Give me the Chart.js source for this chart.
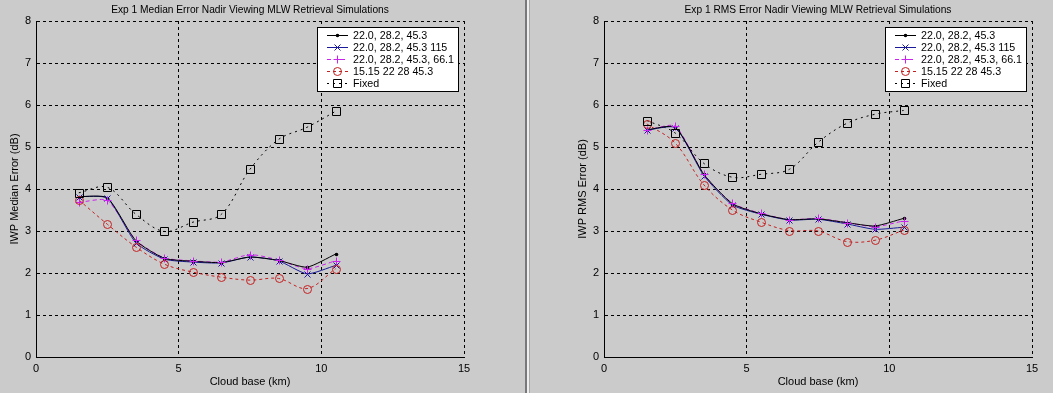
<!DOCTYPE html>
<html>
<head>
<meta charset="utf-8">
<script src="https://cdn.jsdelivr.net/npm/chart.js@4/dist/chart.umd.min.js"></script>
<style>
  body { margin: 0; background: #cbcbcb; width: 1053px; height: 393px; overflow: hidden; position: relative; }
  .pane { position: absolute; top: 0; height: 393px; }
  .sep { position: absolute; top: 0; height: 393px; }
</style>
</head>
<body>
<div class="pane" style="left:0;width:525px"><canvas id="left" width="525" height="393"></canvas></div>
<div class="sep" style="left:525px;width:2px;background:#77777c"></div>
<div class="sep" style="left:527px;width:2px;background:#eeeeee"></div>
<div class="sep" style="left:529px;width:1px;background:#a8a8a8"></div>
<div class="pane" style="left:530px;width:523px"><canvas id="right" width="523" height="393"></canvas></div>
<script>
// cloud base heights (km)
const cloudBase = [1.5, 2.5, 3.5, 4.5, 5.5, 6.5, 7.5, 8.5, 9.5, 10.5];

const seriesNames = ['22.0, 28.2, 45.3', '22.0, 28.2, 45.3 115', '22.0, 28.2, 45.3, 66.1', '15.15 22 28 45.3', 'Fixed'];

// median error (dB)
const medianA = [3.82, 3.79, 2.77, 2.35, 2.28, 2.25, 2.38, 2.30, 2.14, 2.45];
const medianB = [3.82, 3.78, 2.72, 2.33, 2.26, 2.24, 2.38, 2.29, 1.98, 2.18];
const medianC = [3.68, 3.73, 2.78, 2.36, 2.29, 2.26, 2.44, 2.31, 2.10, 2.29];
const medianD = [3.74, 3.16, 2.62, 2.21, 2.02, 1.90, 1.83, 1.87, 1.63, 2.10];
const medianFixed = [3.91, 4.04, 3.40, 2.99, 3.21, 3.40, 4.47, 5.18, 5.47, 5.85];

// rms error (dB)
const rmsA = [5.41, 5.47, 4.35, 3.65, 3.41, 3.27, 3.29, 3.20, 3.12, 3.30];
const rmsB = [5.40, 5.46, 4.32, 3.62, 3.40, 3.26, 3.28, 3.17, 3.04, 3.09];
const rmsC = [5.40, 5.50, 4.35, 3.66, 3.42, 3.27, 3.30, 3.20, 3.10, 3.24];
const rmsD = [5.55, 5.09, 4.10, 3.50, 3.21, 3.01, 3.00, 2.75, 2.78, 3.02];
const rmsFixed = [5.63, 5.33, 4.61, 4.28, 4.35, 4.47, 5.11, 5.56, 5.78, 5.87];

const xTicks = [0, 5, 10, 15];
const FONT = '"Liberation Sans", Arial, sans-serif';

const styles = [
  { color: '#000000', dash: [], point: 'dot', r: 1.8 },
  { color: '#1a1a9a', dash: [], point: 'crossRot', r: 3 },
  { color: '#cc22ee', dash: [4, 3], point: 'cross', r: 4 },
  { color: '#c42020', dash: [3, 3], point: 'circle', r: 4 },
  { color: '#000000', dash: [2, 4], point: 'rect', r: 4 }
];

function drawMarker(ctx, kind, x, y, r, color) {
  x = Math.round(x) + 0.5;
  y = Math.round(y) + 0.5;
  ctx.save();
  ctx.setLineDash([]);
  ctx.strokeStyle = color;
  ctx.fillStyle = color;
  ctx.lineWidth = 1;
  ctx.beginPath();
  if (kind === 'dot') {
    ctx.arc(x, y, r, 0, Math.PI * 2);
    ctx.fill();
  } else if (kind === 'crossRot') {
    ctx.moveTo(x - r, y - r); ctx.lineTo(x + r, y + r);
    ctx.moveTo(x - r, y + r); ctx.lineTo(x + r, y - r);
    ctx.stroke();
  } else if (kind === 'cross') {
    ctx.moveTo(x - r, y); ctx.lineTo(x + r, y);
    ctx.moveTo(x, y - r); ctx.lineTo(x, y + r);
    ctx.stroke();
  } else if (kind === 'circle') {
    ctx.arc(x, y, r, 0, Math.PI * 2);
    ctx.stroke();
  } else if (kind === 'rect') {
    ctx.rect(x - r, y - r, r * 2, r * 2);
    ctx.stroke();
  }
  ctx.restore();
}

// markers drawn by hand so the shapes look like the matlab ones
const markerPlugin = {
  id: 'markers',
  afterDatasetsDraw(chart) {
    const ctx = chart.ctx;
    chart.data.datasets.forEach((ds, i) => {
      const meta = chart.getDatasetMeta(i);
      const st = styles[i];
      meta.data.forEach(pt => drawMarker(ctx, st.point, pt.x, pt.y, st.r, st.color));
    });
  }
};

const boxLegend = {
  id: 'boxLegend',
  afterDraw(chart) {
    const ctx = chart.ctx;
    const area = chart.chartArea;
    const w = 141, h = 64;
    const x0 = Math.round(area.right - 6 - w), y0 = Math.round(area.top + 6);
    ctx.save();
    ctx.fillStyle = '#ffffff';
    ctx.fillRect(x0, y0, w, h);
    ctx.strokeStyle = '#000000';
    ctx.lineWidth = 1;
    ctx.setLineDash([]);
    ctx.strokeRect(x0 + 0.5, y0 + 0.5, w, h);
    ctx.font = '10.7px ' + FONT;
    ctx.textBaseline = 'middle';
    chart.data.datasets.forEach((ds, i) => {
      const st = styles[i];
      const y = y0 + 8 + i * 12;
      ctx.strokeStyle = st.color;
      ctx.setLineDash(st.dash);
      ctx.beginPath();
      ctx.moveTo(x0 + 10, y + 0.5);
      ctx.lineTo(x0 + 31, y + 0.5);
      ctx.stroke();
      drawMarker(ctx, st.point, x0 + 20, y, st.r, st.color);
      ctx.fillStyle = '#000000';
      ctx.fillText(ds.label, x0 + 36, y + 1);
    });
    ctx.restore();
  }
};

const topTitle = {
  id: 'topTitle',
  afterDraw(chart, args, opts) {
    const ctx = chart.ctx;
    const area = chart.chartArea;
    ctx.save();
    ctx.font = '10.2px ' + FONT;
    ctx.fillStyle = '#000000';
    ctx.textAlign = 'center';
    ctx.textBaseline = 'middle';
    ctx.fillText(opts.text, (area.left + area.right) / 2, 10);
    ctx.restore();
  }
};

function makeChart(id, title, yLabel, values, padLeft, padRight) {
  const datasets = values.map((vals, i) => ({
    label: seriesNames[i],
    data: cloudBase.map((x, k) => ({ x: x, y: vals[k] })),
    borderColor: styles[i].color,
    borderDash: styles[i].dash,
    borderWidth: 1,
    pointRadius: 0,
    tension: i >= 3 ? 0.35 : 0.2,
    fill: false
  }));
  return new Chart(document.getElementById(id), {
    type: 'line',
    data: { datasets: datasets },
    options: {
      responsive: false,
      animation: false,
      layout: { padding: { left: padLeft, right: padRight, top: 21, bottom: 0 } },
      plugins: {
        legend: { display: false },
        tooltip: { enabled: false },
        topTitle: { text: title }
      },
      scales: {
        x: {
          type: 'linear', min: 0, max: 15,
          afterBuildTicks: s => { s.ticks = xTicks.map(v => ({ value: v })); },
          afterFit: s => { s.height = 36; },
          grid: { color: '#000000', drawTicks: false },
          border: { display: true, color: '#000000', width: 1, dash: [3, 3] },
          ticks: { color: '#000000', padding: 5, font: { family: FONT, size: 11 } },
          title: { display: true, text: 'Cloud base (km)', color: '#000000', padding: { top: 0, bottom: 4 }, font: { family: FONT, size: 11 } }
        },
        y: {
          type: 'linear', min: 0, max: 8,
          ticks: { stepSize: 1, color: '#000000', padding: 5, font: { family: FONT, size: 11 } },
          afterFit: s => { s.width = 36; },
          grid: { color: '#000000', drawTicks: false },
          border: { display: true, color: '#000000', width: 1, dash: [3, 3] },
          title: { display: true, text: yLabel, color: '#000000', padding: { top: 8, bottom: 0 }, font: { family: FONT, size: 11 } }
        }
      }
    },
    plugins: [markerPlugin, boxLegend, topTitle]
  });
}

makeChart('left', 'Exp 1 Median Error Nadir Viewing MLW Retrieval Simulations', 'IWP Median Error (dB)',
  [medianA, medianB, medianC, medianD, medianFixed], 0, 61);
makeChart('right', 'Exp 1 RMS Error Nadir Viewing MLW Retrieval Simulations', 'IWP RMS Error (dB)',
  [rmsA, rmsB, rmsC, rmsD, rmsFixed], 38, 21);
</script>
</body>
</html>
